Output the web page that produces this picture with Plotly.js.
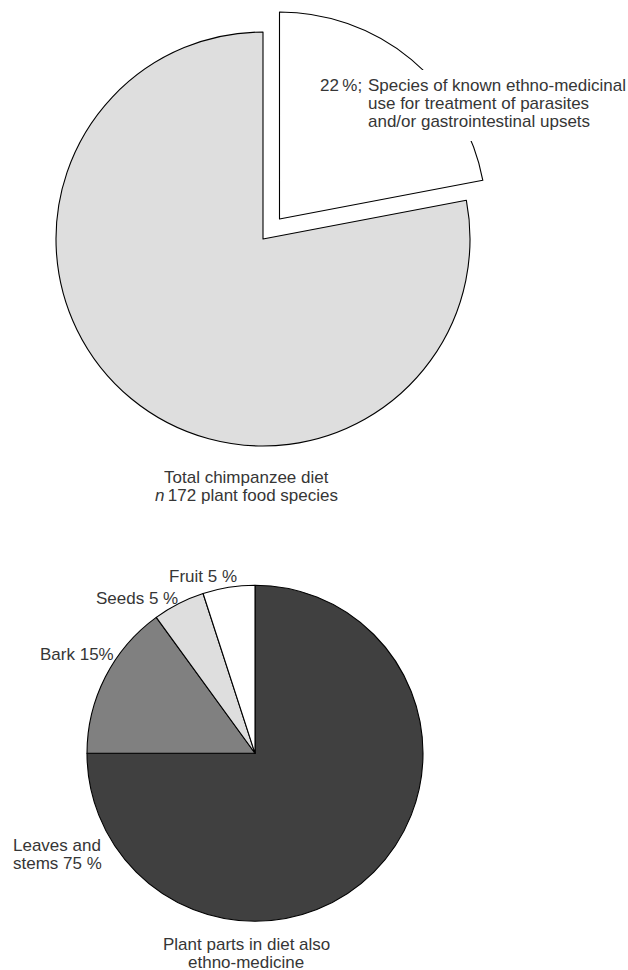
<!DOCTYPE html>
<html>
<head>
<meta charset="utf-8">
<script src="https://cdn.plot.ly/plotly-3.0.1.min.js"></script>
<style>html,body{margin:0;padding:0;background:#fff;}#chart{width:628px;height:970px;}</style>
</head>
<body>
<div id="chart"></div>
<script>
// ---- data ----
const dietLabels = ['Species of known ethno-medicinal use', 'Other plant food species'];
const dietValues = [22, 78];
const dietLabelLines = ['Species of known ethno-medicinal', 'use for treatment of parasites', 'and/or gastrointestinal upsets'];
const dietPctText = '22\u2009%;';
const dietCaption = ['Total chimpanzee diet', '<i>n</i>\u2009172 plant food species'];

const partLabels = ['Leaves and stems', 'Bark', 'Seeds', 'Fruit'];
const partValues = [75, 15, 5, 5];
const partLabelText = [['Leaves and', 'stems 75 %'], ['Bark 15%'], ['Seeds 5 %'], ['Fruit 5 %']];
const partCaption = ['Plant parts in diet also', 'ethno-medicine'];

// ---- layout helpers ----
const W = 628, H = 970;
const px = x => x / W;
const py = y => 1 - y / H;
function squareDomain(cx, cy, r, pull) {
  const half = r * (1 + pull);
  return { x: [px(cx - half), px(cx + half)], y: [py(cy + half), py(cy - half)] };
}
const FONT = 'Liberation Sans, Arial, Helvetica, sans-serif';
const TXT = '#363636';
function ann(text, x, baseline, anchor) {
  return {
    text: text, xref: 'paper', yref: 'paper', x: px(x), y: py(baseline - 6),
    xanchor: anchor, yanchor: 'middle', showarrow: false, borderpad: 0, height: 18,
    font: { family: FONT, size: 17, color: TXT }
  };
}

const pull = 0.125;
const traces = [
  {
    type: 'pie', labels: dietLabels, values: dietValues, sort: false,
    direction: 'clockwise', rotation: 0, pull: [pull, 0],
    marker: { colors: ['#ffffff', '#dedede'], line: { color: '#000000', width: 1.1 } },
    textinfo: 'none', hoverinfo: 'none', showlegend: false,
    domain: squareDomain(263, 239, 207, pull)
  },
  {
    type: 'pie', labels: partLabels, values: partValues, sort: false,
    direction: 'clockwise', rotation: 0,
    marker: { colors: ['#404040', '#808080', '#dedede', '#ffffff'], line: { color: '#000000', width: 1.1 } },
    textinfo: 'none', hoverinfo: 'none', showlegend: false,
    domain: squareDomain(255, 753.3, 168, 0)
  }
];

const annotations = [
  ann(dietPctText, 319.3, 90.7, 'left'),
  ann(dietLabelLines[0], 366.7, 90.7, 'left'),
  ann(dietLabelLines[1], 366.7, 108.7, 'left'),
  ann(dietLabelLines[2], 366.7, 126.7, 'left'),
  ann(dietCaption[0], 246, 483.3, 'center'),
  ann(dietCaption[1], 246, 501.3, 'center'),
  ann(partLabelText[3][0], 167.5, 582.3, 'left'),
  ann(partLabelText[2][0], 95, 604.2, 'left'),
  ann(partLabelText[1][0], 39.3, 660, 'left'),
  ann(partLabelText[0][0], 57.5, 850.7, 'center'),
  ann(partLabelText[0][1], 57.5, 869.3, 'center'),
  ann(partCaption[0], 246, 949.5, 'center'),
  ann(partCaption[1], 246, 967.5, 'center')
];

const layout = {
  width: W, height: H,
  margin: { l: 0, r: 0, t: 0, b: 0, pad: 0 },
  paper_bgcolor: '#ffffff', plot_bgcolor: '#ffffff',
  font: { family: FONT, size: 17, color: TXT },
  showlegend: false,
  shapes: [{
    type: 'rect', xref: 'paper', yref: 'paper', layer: 'above',
    x0: px(312), x1: px(627), y0: py(141), y1: py(70),
    fillcolor: '#ffffff', line: { width: 0 }
  }],
  annotations: annotations
};

Plotly.newPlot('chart', traces, layout, { displayModeBar: false, staticPlot: true });
</script>
</body>
</html>
